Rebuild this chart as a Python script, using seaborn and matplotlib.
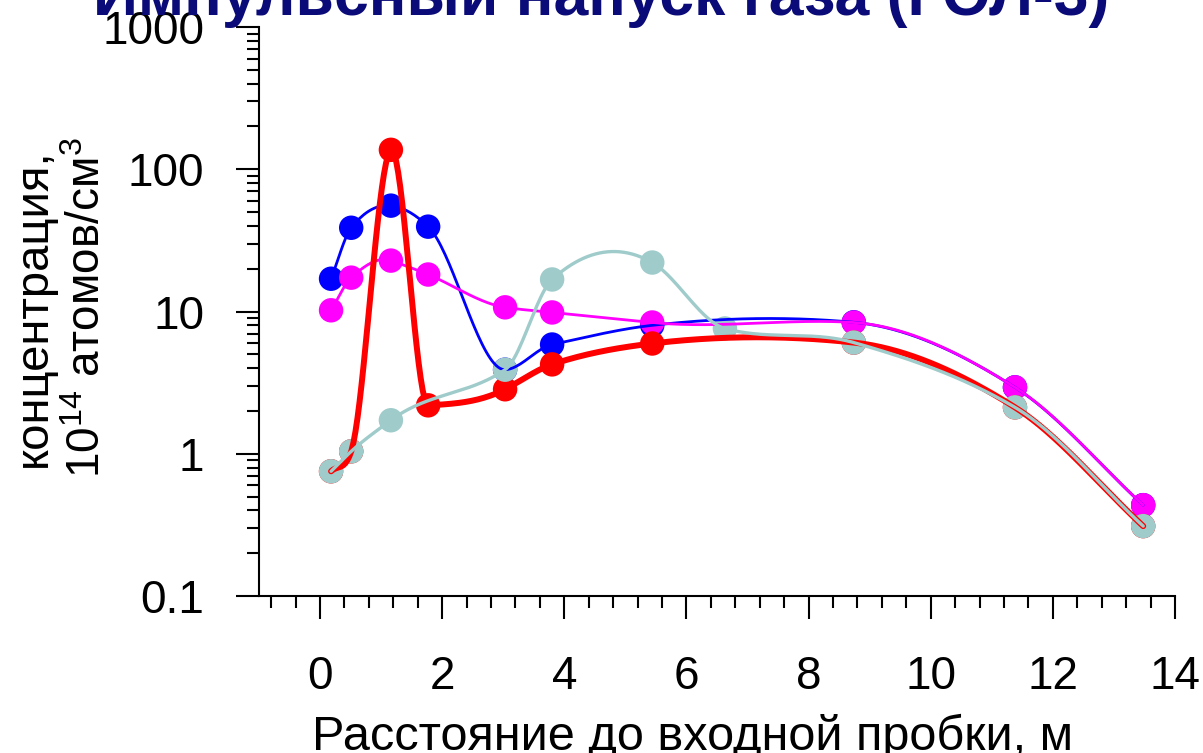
import numpy as np
import pandas as pd
import matplotlib
matplotlib.use("Agg")
import matplotlib.pyplot as plt
import matplotlib.ticker as mticker
import seaborn as sns

# distances along the device, m, and concentrations, 10^14 atoms/cm^3
dist_blue = [0.18, 0.51, 1.16, 1.77, 3.03, 3.80, 5.44, 8.74, 11.38, 13.48]
conc_blue = [17.0, 38.8, 55.5, 39.5, 3.9, 5.86, 8.0, 8.4, 2.93, 0.435]

dist_magenta = [0.18, 0.51, 1.16, 1.77, 3.03, 3.80, 5.44, 8.74, 11.38, 13.48]
conc_magenta = [10.2, 17.3, 22.8, 18.2, 10.7, 9.85, 8.37, 8.37, 2.93, 0.435]

dist_red = [0.18, 0.51, 1.16, 1.77, 3.03, 3.80, 5.44, 8.74, 11.38, 13.48]
conc_red = [0.753, 1.04, 137.0, 2.19, 2.84, 4.25, 5.96, 6.05, 2.12, 0.31]

dist_cyan = [0.18, 0.51, 1.16, 3.03, 3.80, 5.44, 6.63, 8.74, 11.38, 13.48]
conc_cyan = [0.753, 1.04, 1.72, 3.9, 16.8, 22.1, 7.6, 6.05, 2.12, 0.31]

ytick_vals = [0.1, 1, 10, 100, 1000]
ytick_labels = ["0.1", "1", "10", "100", "1000"]
xtick_vals = [0, 2, 4, 6, 8, 10, 12, 14]

title = "Импульсный напуск газа (ГОЛ-3)"
xlabel = "Расстояние до входной пробки, м"
ylabel_1 = "концентрация,"
ylabel_2 = "10$^{14}$ атомов/см$^3$"


def akima_curve(x, y, n=400):
    # smooth connecting line through the points, done in log space
    x = np.asarray(x, float)
    ly = np.log10(np.asarray(y, float))
    m = np.diff(ly) / np.diff(x)
    mm = np.concatenate([[3 * m[0] - 2 * m[1], 2 * m[0] - m[1]], m,
                         [2 * m[-1] - m[-2], 3 * m[-1] - 2 * m[-2]]])
    dm = np.abs(np.diff(mm))
    k = len(x)
    w1, w2 = dm[2:], dm[:-2]
    den = w1 + w2
    safe = np.where(den > 1e-12, den, 1.0)
    t = np.where(den > 1e-12, (w1 * mm[1:k + 1] + w2 * mm[2:k + 2]) / safe,
                 0.5 * (mm[1:k + 1] + mm[2:k + 2]))
    # plain one-sided slopes at the ends, so the curve does not dip there
    t[0], t[-1] = m[0], m[-1]
    xs = np.linspace(x[0], x[-1], n)
    i = np.clip(np.searchsorted(x, xs, side="right") - 1, 0, k - 2)
    h = x[i + 1] - x[i]
    s = (xs - x[i]) / h
    h00 = 2 * s**3 - 3 * s**2 + 1
    h10 = s**3 - 2 * s**2 + s
    h01 = -2 * s**3 + 3 * s**2
    h11 = s**3 - s**2
    ys = h00 * ly[i] + h10 * h * t[i] + h01 * ly[i + 1] + h11 * h * t[i + 1]
    return pd.DataFrame({"x": xs, "y": 10**ys})


sns.set_style("ticks")
plt.rcParams["font.family"] = ["Liberation Sans", "DejaVu Sans"]
plt.rcParams["mathtext.fontset"] = "custom"
plt.rcParams["mathtext.rm"] = "Liberation Sans"
plt.rcParams["text.color"] = "black"
plt.rcParams["xtick.color"] = "black"
plt.rcParams["ytick.color"] = "black"

fig = plt.figure(figsize=(12.03, 7.53), dpi=100)
ax = fig.add_axes([0.2153, 0.2085, 0.7614, 0.7556])

series = [
    (dist_blue, conc_blue, "#0000ff", 2.0),
    (dist_magenta, conc_magenta, "#ff00ff", 2.0),
    (dist_red, conc_red, "#ff0000", 4.3),
    (dist_cyan, conc_cyan, "#9fcbcb", 2.4),
]
for xs, ys, col, lw in series:
    curve = akima_curve(xs, ys)
    sns.lineplot(data=curve, x="x", y="y", ax=ax, color=col, lw=lw,
                 sort=False, estimator=None)
    pts = pd.DataFrame({"x": xs, "y": ys})
    sns.scatterplot(data=pts, x="x", y="y", ax=ax, color=col, s=310,
                    edgecolor="none", linewidth=0)

ax.set_yscale("log")
ax.set_ylim(0.1, 1000)
ax.set_xlim(-1, 14)
ax.set_yticks(ytick_vals, labels=ytick_labels)
ax.yaxis.set_minor_locator(mticker.LogLocator(base=10, subs=range(2, 10)))
ax.yaxis.set_minor_formatter(mticker.NullFormatter())
ax.set_xticks(xtick_vals)
ax.xaxis.set_minor_locator(mticker.MultipleLocator(0.4))
ax.set_xlabel("")
ax.set_ylabel("")

for side in ["top", "right"]:
    ax.spines[side].set_visible(False)
for side in ["left", "bottom"]:
    ax.spines[side].set_linewidth(1.5)
    ax.spines[side].set_color("black")

ax.tick_params(which="major", direction="out", length=16.5, width=1.5,
               labelsize=33, colors="black")
ax.tick_params(which="minor", direction="out", length=8.5, width=1.5,
               colors="black")
ax.tick_params(axis="x", which="major", pad=26)
ax.tick_params(axis="y", which="major", pad=23)

fig.text(0.5, 1 - 15 / 753, title, ha="center", va="baseline",
         fontsize=45, fontweight="bold", color="#0a0a78")
fig.text(312 / 1203, 1 - 750 / 753, xlabel, ha="left", va="baseline",
         fontsize=35, color="black")
ymid = 1 - 308 / 753
fig.text(46 / 1203, ymid, ylabel_1, ha="center", va="baseline",
         rotation=90, rotation_mode="anchor", fontsize=34, color="black")
fig.text(100 / 1203, ymid, ylabel_2, ha="center", va="baseline",
         rotation=90, rotation_mode="anchor", fontsize=33, color="black")

fig.savefig("out.png", dpi=100)
